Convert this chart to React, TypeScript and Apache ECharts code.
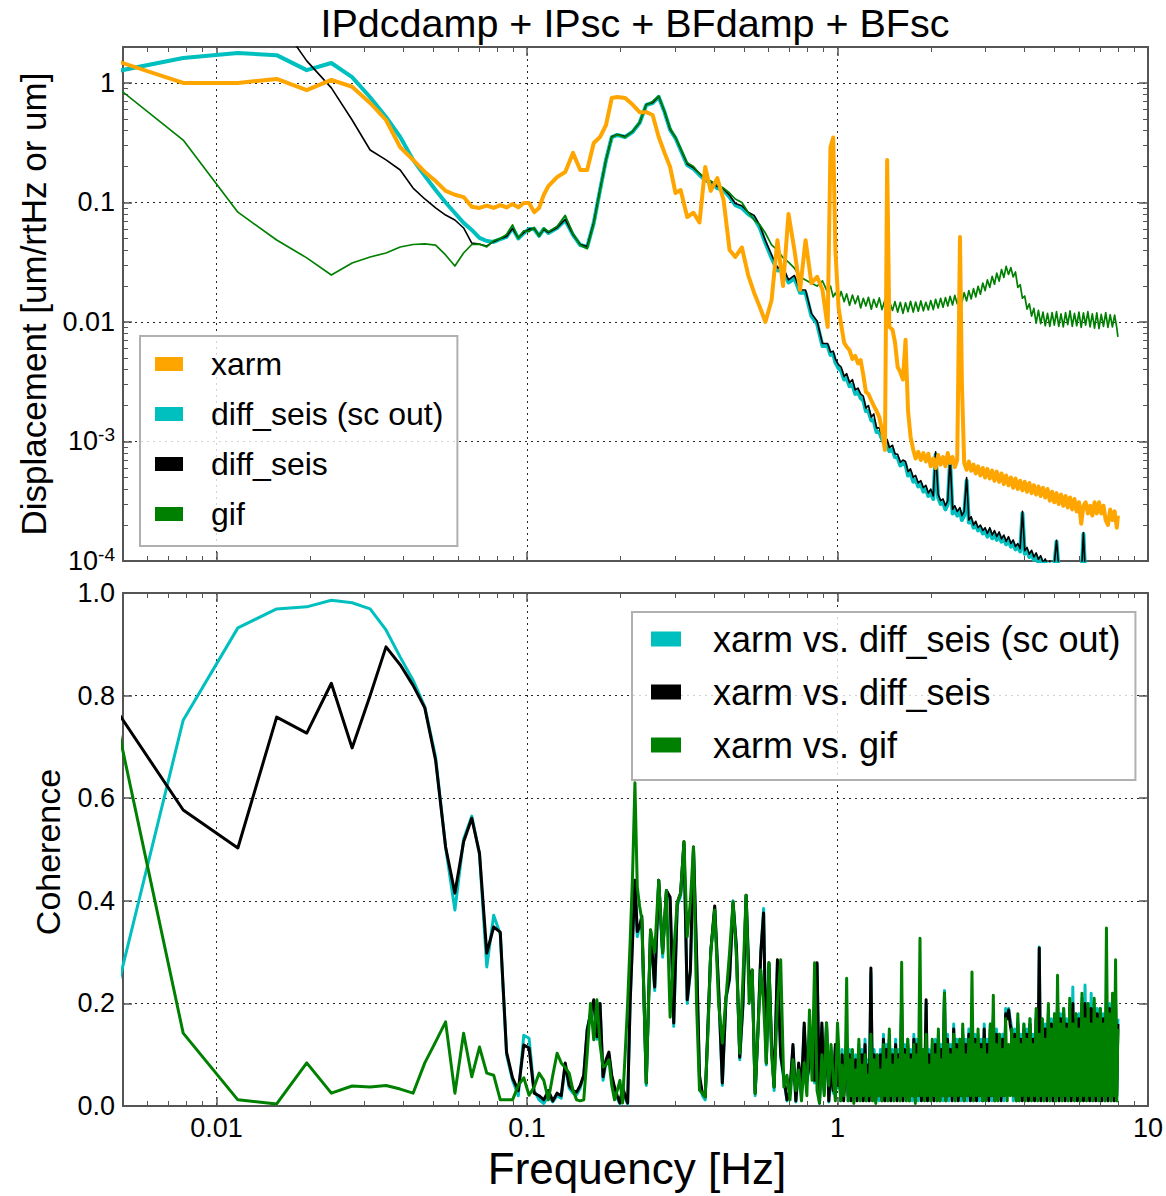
import React, { useEffect, useRef } from 'react';
import * as echarts from 'echarts';

// ---------- data ----------
const HZ_PER_BIN = 1 / 256;

const TITLE = 'IPdcdamp + IPsc + BFdamp + BFsc';
const Y_NAME_TOP = 'Displacement [um/rtHz or um]';
const Y_NAME_BOTTOM = 'Coherence';
const X_NAME = 'Frequency [Hz]';

const TOP_NAMES = ['xarm', 'diff_seis (sc out)', 'diff_seis', 'gif'];
const BOTTOM_NAMES = ['xarm vs. diff_seis (sc out)', 'xarm vs. diff_seis', 'xarm vs. gif'];

const X_MAJOR = [0.01, 0.1, 1, 10];
const X_MINOR = [0.006, 0.007, 0.008, 0.009, 0.02, 0.03, 0.04, 0.05, 0.06, 0.07, 0.08, 0.09,
  0.2, 0.3, 0.4, 0.5, 0.6, 0.7, 0.8, 0.9, 2, 3, 4, 5, 6, 7, 8, 9];
const Y_TOP_MAJOR = [0.0001, 0.001, 0.01, 0.1, 1];
const Y_TOP_MINOR = [0.0002, 0.0003, 0.0004, 0.0005, 0.0006, 0.0007, 0.0008, 0.0009,
  0.002, 0.003, 0.004, 0.005, 0.006, 0.007, 0.008, 0.009,
  0.02, 0.03, 0.04, 0.05, 0.06, 0.07, 0.08, 0.09,
  0.2, 0.3, 0.4, 0.5, 0.6, 0.7, 0.8, 0.9];
const Y_BOTTOM_TICKS = [0, 0.2, 0.4, 0.6, 0.8, 1.0];

// frequency bins (units of 1/256 Hz) of the spectra, top panel
const TOP_BINS = [
  1, 2, 3, 4, 5, 6, 7, 8, 9, 10,
  11, 12, 13, 14, 15, 16, 17, 18, 19, 20,
  21, 22, 23, 24, 25, 26, 27, 28, 29, 30,
  32, 34, 36, 38, 40, 42, 44, 46, 48, 50,
  53, 56, 59, 62, 65, 68, 71, 74, 77, 80,
  84, 88, 92, 96, 100,
  105, 110, 115, 120, 126, 132, 138, 144, 150,
  157, 164, 171, 178, 186, 194, 202, 211, 220, 229, 238,
  243, 248,
  252, 258, 263, 269, 274, 280, 286, 292, 298, 304,
  310, 316, 322, 329, 335, 342, 349, 356, 364, 370,
  376, 385, 392, 400, 408, 416, 424, 432, 440, 449,
  457, 466, 475, 484, 493, 502, 511, 521, 530, 540,
  550, 560, 570, 580, 590, 601, 611, 622, 635, 644,
  655, 667, 678, 690, 702, 714, 726, 739, 752, 765,
  778, 792, 806, 820, 834, 849, 864, 879, 894, 910,
  926, 942, 958, 975, 992, 1009, 1026, 1044, 1062, 1080,
  1098, 1117, 1136, 1155, 1175, 1195, 1215, 1236, 1257, 1278,
  1299, 1321, 1343, 1366, 1389, 1412, 1436, 1460, 1484, 1509,
  1534, 1560, 1586, 1612, 1639, 1666, 1694, 1722, 1751, 1780,
  1810, 1840, 1871, 1902, 1934, 1966, 1999, 2032, 2048,
];

const XARM = [
  1.81, 1.0, 1.0, 1.08, 0.87, 1.06, 0.93, 0.68, 0.49, 0.29,
  0.227, 0.18, 0.151, 0.125, 0.116, 0.111, 0.092, 0.09, 0.094, 0.09,
  0.095, 0.091, 0.097, 0.091, 0.099, 0.099, 0.083, 0.09, 0.116, 0.137,
  0.163, 0.18, 0.26, 0.187, 0.187, 0.315, 0.353, 0.445, 0.749, 0.764,
  0.75, 0.66, 0.57, 0.57, 0.54, 0.353, 0.26, 0.198, 0.12, 0.127,
  0.0756, 0.082, 0.068, 0.198, 0.125,
  0.16, 0.105, 0.04, 0.035, 0.042, 0.0247, 0.0175, 0.0133, 0.01,
  0.0152, 0.0484, 0.02, 0.0802, 0.04, 0.0186, 0.0484, 0.0211, 0.0239, 0.0186, 0.0091,
  0.29, 0.35,
  0.04, 0.0133, 0.0095, 0.0067, 0.0062, 0.0058, 0.0049, 0.0052, 0.0045, 0.0048,
  0.0036, 0.0026, 0.0025, 0.0022, 0.002, 0.0018, 0.0016, 0.00125, 0.00085, 0.227,
  0.0091, 0.0086, 0.0068, 0.0042, 0.0038, 0.0033, 0.0071, 0.0018, 0.0011, 0.00085,
  0.00072, 0.00082, 0.0007, 0.0008, 0.00068, 0.00079, 0.00062, 0.00072, 0.0006, 0.00077,
  0.00064, 0.00074, 0.00062, 0.0008, 0.00066, 0.00074, 0.00061, 0.0007, 0.0514, 0.00309,
  0.00066, 0.00058, 0.00068, 0.00057, 0.00064, 0.00054, 0.00062, 0.00052, 0.0006, 0.0005,
  0.00059, 0.00049, 0.00057, 0.00047, 0.00056, 0.00046, 0.00054, 0.00044, 0.00052, 0.00043,
  0.0005, 0.00041, 0.00049, 0.0004, 0.00047, 0.00039, 0.00046, 0.00038, 0.00045, 0.00037,
  0.00043, 0.00036, 0.00042, 0.00035, 0.00041, 0.00034, 0.0004, 0.00032, 0.00038, 0.00031,
  0.00037, 0.0003, 0.00036, 0.00029, 0.00035, 0.00028, 0.00034, 0.00027, 0.00033, 0.00026,
  0.00031, 0.000205, 0.00029, 0.00031, 0.00025, 0.00029, 0.00024, 0.00031, 0.00025, 0.00031,
  0.00025, 0.00029, 0.00022, 0.0002, 0.00027, 0.00022, 0.00026, 0.00019, 0.00024,
];

const DIFF_SEIS_SC_OUT = [
  1.13, 1.62, 1.78, 1.71, 1.28, 1.47, 1.12, 0.76, 0.52, 0.353,
  0.227, 0.167, 0.127, 0.1, 0.0817, 0.0675, 0.0589, 0.0505, 0.0476, 0.0468,
  0.0494, 0.0515, 0.0612, 0.05, 0.0555, 0.06, 0.06, 0.0525, 0.06, 0.0555,
  0.0612, 0.0713, 0.0535, 0.0441, 0.0424, 0.0675, 0.127, 0.227, 0.353, 0.367,
  0.353, 0.389, 0.462, 0.654, 0.68, 0.764, 0.571, 0.405, 0.346, 0.275,
  0.206, 0.191, 0.17, 0.154, 0.146,
  0.132, 0.127, 0.111, 0.095, 0.09, 0.08, 0.074, 0.0612, 0.0458,
  0.0344, 0.027, 0.0272, 0.0214, 0.0232, 0.0176, 0.0176, 0.0112, 0.0097, 0.0063, 0.0063,
  0.0053, 0.0054,
  0.0046, 0.0041, 0.0039, 0.0033, 0.0034, 0.0029, 0.003, 0.0025, 0.0026, 0.0023,
  0.0022, 0.0018, 0.0018, 0.0015, 0.0015, 0.0012, 0.0012, 0.00105, 0.00093, 0.00097,
  0.00083, 0.00086, 0.00074, 0.00073, 0.00063, 0.00066, 0.00064, 0.00052, 0.00055, 0.00046,
  0.00048, 0.00042, 0.00044, 0.00038, 0.0004, 0.00035, 0.00037, 0.00033, 0.00078, 0.00034,
  0.0003, 0.00031, 0.00027, 0.0003, 0.0007, 0.00025, 0.00027, 0.00024, 0.00026, 0.00022,
  0.00024, 0.00047, 0.00021, 0.00022, 0.00019, 0.0002, 0.00018, 0.00019, 0.00017, 0.00018,
  0.00016, 0.00018, 0.000155, 0.00017, 0.00015, 0.000165, 0.000145, 0.000155, 0.000138, 0.00015,
  0.000132, 0.000142, 0.000125, 0.000133, 0.00012, 0.00025, 0.000115, 0.000122, 0.000108, 0.000116,
  0.000102, 0.00011, 0.000097, 0.000105, 0.000092, 0.000098, 0.000088, 0.000094, 0.000084, 0.00009,
  0.000145, 0.000082, 0.000086, 0.000078, 0.000082, 0.000075, 0.000079, 0.000072, 0.000075, 0.000069,
  0.000072, 0.000066, 0.000168, 0.000064, 0.000066, 0.000061, 0.000063, 0.000059, 0.00006, 0.000057,
  0.000058, 0.000055, 0.000056, 0.000053, 0.000054, 0.000052, 0.000052, 0.00005, 0.00005,
];

const DIFF_SEIS = [
  15, 9, 5.5, 3.5, 1.53, 0.91, 0.49, 0.275, 0.227, 0.187,
  0.132, 0.107, 0.09, 0.0785, 0.0714, 0.0612, 0.0458, 0.0448, 0.0433, 0.047,
  0.0497, 0.052, 0.0605, 0.0505, 0.056, 0.0598, 0.0605, 0.053, 0.0595, 0.056,
  0.0615, 0.072, 0.054, 0.0445, 0.0428, 0.068, 0.128, 0.228, 0.355, 0.37,
  0.356, 0.392, 0.465, 0.66, 0.685, 0.77, 0.575, 0.41, 0.35, 0.28,
  0.21, 0.195, 0.175, 0.158, 0.15,
  0.136, 0.13, 0.115, 0.098, 0.094, 0.083, 0.078, 0.064, 0.048,
  0.0365, 0.0285, 0.0285, 0.0225, 0.0245, 0.0185, 0.0185, 0.0118, 0.0102, 0.0066, 0.0066,
  0.0056, 0.0057,
  0.0049, 0.0044, 0.0042, 0.0035, 0.0037, 0.0031, 0.0033, 0.0027, 0.0028, 0.0025,
  0.0024, 0.0019, 0.002, 0.0016, 0.0017, 0.0013, 0.0013, 0.00112, 0.001, 0.00104,
  0.00089, 0.00093, 0.00079, 0.00078, 0.00067, 0.0007, 0.00068, 0.00056, 0.00059, 0.0005,
  0.00052, 0.00045, 0.00047, 0.00041, 0.00043, 0.00037, 0.0004, 0.00035, 0.00082, 0.00036,
  0.00032, 0.00033, 0.00029, 0.00032, 0.00074, 0.00027, 0.00029, 0.00026, 0.00028, 0.00024,
  0.00026, 0.0005, 0.00022, 0.000235, 0.0002, 0.000215, 0.00019, 0.0002, 0.00018, 0.00019,
  0.00017, 0.00019, 0.000165, 0.00018, 0.00016, 0.000175, 0.000153, 0.000165, 0.000146, 0.00016,
  0.00014, 0.00015, 0.000132, 0.00014, 0.000127, 0.00026, 0.000122, 0.00013, 0.000114, 0.000123,
  0.000108, 0.000117, 0.000103, 0.000111, 0.000097, 0.000104, 0.000093, 0.0001, 0.000089, 0.000095,
  0.000149, 0.000087, 0.000091, 0.000082, 0.000087, 0.000079, 0.000083, 0.000076, 0.000079, 0.000073,
  0.000076, 0.00007, 0.000173, 0.000068, 0.00007, 0.000065, 0.000067, 0.000062, 0.000064, 0.00006,
  0.000061, 0.000058, 0.000059, 0.000056, 0.000057, 0.000055, 0.000055, 0.000053, 0.000053,
];

const GIF = [
  1.4, 0.333, 0.083, 0.0485, 0.0344, 0.0247, 0.0312, 0.035, 0.0378, 0.0424,
  0.0445, 0.045, 0.044, 0.0364, 0.0294, 0.0378, 0.0445, 0.0448, 0.0425, 0.048,
  0.05, 0.054, 0.065, 0.05, 0.058, 0.057, 0.062, 0.052, 0.061, 0.057,
  0.063, 0.078, 0.055, 0.044, 0.041, 0.066, 0.125, 0.225, 0.35, 0.37,
  0.35, 0.395, 0.47, 0.65, 0.7, 0.78, 0.58, 0.42, 0.35, 0.285,
  0.215, 0.2, 0.175, 0.16, 0.151,
  0.14, 0.132, 0.12, 0.107, 0.1, 0.083, 0.0713, 0.065, 0.0555,
  0.0441, 0.04, 0.0344, 0.0317, 0.0282, 0.0239, 0.0225, 0.0211, 0.02, 0.0221, 0.0177,
  0.02, 0.0162,
  0.0175, 0.0153, 0.018, 0.0148, 0.0172, 0.0138, 0.0168, 0.0142, 0.0165, 0.0131,
  0.0158, 0.0136, 0.0161, 0.0128, 0.0155, 0.0133, 0.0159, 0.0127, 0.0153, 0.0122,
  0.015, 0.0125, 0.0148, 0.0121, 0.0146, 0.0118, 0.0145, 0.0122, 0.0149, 0.0121,
  0.0147, 0.0123, 0.015, 0.0124, 0.0146, 0.0126, 0.0151, 0.0127, 0.0155, 0.0131,
  0.0158, 0.0133, 0.016, 0.0136, 0.0164, 0.0139, 0.0167, 0.0142, 0.0171, 0.0146,
  0.0176, 0.015, 0.0183, 0.0156, 0.019, 0.0162, 0.0199, 0.0171, 0.0212, 0.0183,
  0.0225, 0.0195, 0.0241, 0.0207, 0.0256, 0.022, 0.0275, 0.0236, 0.0292, 0.025,
  0.0285, 0.0238, 0.0262, 0.0195, 0.0205, 0.0158, 0.0165, 0.0128, 0.0142, 0.0112,
  0.013, 0.0098, 0.0125, 0.0097, 0.0121, 0.0093, 0.0118, 0.0092, 0.012, 0.0094,
  0.0122, 0.0092, 0.0117, 0.0091, 0.012, 0.0095, 0.0124, 0.0092, 0.0118, 0.0093,
  0.0121, 0.009, 0.0119, 0.0094, 0.0122, 0.0091, 0.0117, 0.0089, 0.0119, 0.0088,
  0.0116, 0.0092, 0.012, 0.009, 0.0115, 0.0091, 0.0114, 0.0089, 0.0075,
];

// frequency bins (units of 1/256 Hz) of the coherences, bottom panel
const BOT_BINS = [
  1, 2, 3, 4, 5, 6, 7, 8, 9, 10,
  11, 12, 13, 14, 15, 16, 17, 18, 19, 20,
  21, 22, 23, 24, 25, 26, 27, 28, 29, 30,
  31, 32, 33, 34, 35, 36, 37, 38, 39, 40,
  41, 42, 43, 44, 45, 46, 47, 48, 49, 50,
  51, 52, 53, 54, 55, 56, 57, 58, 59, 60,
  62, 64, 66, 68, 70, 72, 74, 76, 78, 80,
  82, 84, 86, 88, 90, 92, 94, 96, 98, 100,
  103, 106, 109, 112, 115, 118, 121, 124, 127, 130,
  133, 136, 139, 142, 145, 148, 151, 154, 157, 160,
  164, 168, 172, 176, 180, 184, 188, 192, 196, 200,
  204, 208, 212, 216, 220, 224, 228, 232, 236, 240,
  244, 248, 252, 256,
  259, 262, 265, 268, 271, 274, 277, 280, 283, 286,
  289, 293, 296, 300, 303, 307, 310, 314, 317, 321,
  324, 328, 332, 336, 340, 344, 348, 352, 356, 360,
  364, 368, 372, 376, 380, 385, 389, 394, 398, 403,
  407, 412, 416, 421, 426, 431, 436, 441, 446, 451,
  456, 461, 466, 472, 477, 483, 488, 494, 499, 505,
  511, 517, 523, 529, 535, 541, 547, 553, 559, 566,
  572, 579, 585, 592, 599, 606, 613, 620, 627, 634,
  641, 648, 655, 663, 670, 678, 686, 694, 702, 710,
  718, 726, 734, 743, 751, 760, 768, 777, 786, 795,
  804, 813, 822, 832, 841, 851, 861, 871, 881, 891,
  901, 911, 921, 932, 942, 953, 964, 975, 986, 997,
  1008, 1020, 1031, 1043, 1055, 1067, 1079, 1092, 1104, 1117,
  1130, 1143, 1156, 1169, 1182, 1196, 1209, 1223, 1237, 1251,
  1265, 1280, 1294, 1309, 1324, 1339, 1354, 1370, 1385, 1401,
  1417, 1433, 1449, 1466, 1483, 1500, 1517, 1534, 1551, 1569,
  1587, 1605, 1623, 1642, 1661, 1680, 1699, 1718, 1738, 1758,
  1778, 1798, 1818, 1839, 1860, 1881, 1902, 1924, 1946, 1968,
  1990, 2013, 2030, 2048,
];

const COH_SC_OUT = [
  0.01, 0.752, 0.932, 0.969, 0.973, 0.986, 0.981, 0.969, 0.928, 0.875,
  0.83, 0.778, 0.68, 0.505, 0.382, 0.52, 0.565, 0.49, 0.271, 0.372,
  0.335, 0.1, 0.05, 0.02, 0.138, 0.132, 0.03, 0.012, 0.005, 0.02,
  0.008, 0.02, 0.015, 0.08, 0.035, 0.025, 0.022, 0.035, 0.06, 0.15,
  0.18, 0.205, 0.13, 0.2, 0.05, 0.085, 0.1, 0.055, 0.03, 0.015,
  0.004, 0.035, 0.015, 0.004, 0.2, 0.33, 0.44, 0.33, 0.35, 0.36,
  0.04, 0.34, 0.225, 0.44, 0.29, 0.42, 0.4, 0.155, 0.39, 0.41,
  0.51, 0.2, 0.26, 0.5, 0.29, 0.05, 0.02, 0.012, 0.155, 0.3,
  0.385, 0.225, 0.04, 0.21, 0.245, 0.4, 0.305, 0.09, 0.195, 0.41,
  0.235, 0.26, 0.02, 0.145, 0.3, 0.385, 0.08, 0.275, 0.115, 0.03,
  0.28, 0.095, 0.05, 0.01, 0.025, 0.115, 0.008, 0.08, 0.025, 0.155,
  0.045, 0.08, 0.145, 0.045, 0.275, 0.005, 0.155, 0.025, 0.155, 0.008,
  0.075, 0.025, 0.115, 0.035,
  0.09, 0.01, 0.11, 0.02, 0.08, 0.13, 0.01, 0.11, 0.02, 0.1,
  0.01, 0.1, 0.02, 0.12, 0.01, 0.11, 0.02, 0.13, 0.01, 0.09,
  0.02, 0.26, 0.01, 0.11, 0.02, 0.1, 0.01, 0.11, 0.02, 0.14,
  0.02, 0.12, 0.01, 0.14, 0.02, 0.11, 0.01, 0.13, 0.02, 0.11,
  0.01, 0.2, 0.02, 0.12, 0.01, 0.13, 0.02, 0.11, 0.01, 0.14,
  0.02, 0.13, 0.01, 0.16, 0.02, 0.11, 0.01, 0.2, 0.02, 0.11,
  0.01, 0.12, 0.02, 0.13, 0.01, 0.14, 0.02, 0.12, 0.01, 0.225,
  0.02, 0.14, 0.01, 0.12, 0.02, 0.16, 0.01, 0.13, 0.02, 0.13,
  0.01, 0.15, 0.02, 0.13, 0.01, 0.15, 0.02, 0.17, 0.01, 0.14,
  0.02, 0.14, 0.01, 0.13, 0.02, 0.16, 0.01, 0.13, 0.02, 0.16,
  0.01, 0.18, 0.02, 0.15, 0.01, 0.14, 0.02, 0.14, 0.01, 0.19,
  0.18, 0.19, 0.17, 0.15, 0.01, 0.15, 0.02, 0.17, 0.01, 0.14,
  0.02, 0.16, 0.01, 0.15, 0.02, 0.17, 0.01, 0.14, 0.02, 0.18,
  0.01, 0.31, 0.02, 0.17, 0.01, 0.16, 0.02, 0.19, 0.01, 0.17,
  0.02, 0.18, 0.01, 0.21, 0.02, 0.18, 0.01, 0.19, 0.02, 0.17,
  0.01, 0.2, 0.02, 0.232, 0.01, 0.18, 0.02, 0.18, 0.01, 0.21,
  0.02, 0.236, 0.01, 0.2, 0.02, 0.22, 0.01, 0.2, 0.02, 0.19,
  0.01, 0.19, 0.02, 0.18, 0.01, 0.21, 0.02, 0.2, 0.01, 0.21,
  0.02, 0.21, 0.01, 0.17,
];

const COH_DIFF_SEIS = [
  0.849, 0.577, 0.503, 0.758, 0.727, 0.824, 0.698, 0.8, 0.895, 0.86,
  0.82, 0.776, 0.674, 0.505, 0.415, 0.515, 0.561, 0.493, 0.298, 0.349,
  0.339, 0.105, 0.055, 0.03, 0.119, 0.113, 0.025, 0.02, 0.012, 0.03,
  0.01, 0.025, 0.02, 0.084, 0.04, 0.03, 0.027, 0.04, 0.06, 0.148,
  0.18, 0.207, 0.135, 0.2, 0.057, 0.09, 0.105, 0.06, 0.037, 0.02,
  0.006, 0.037, 0.02, 0.006, 0.2, 0.32, 0.44, 0.34, 0.35, 0.37,
  0.045, 0.343, 0.232, 0.44, 0.3, 0.42, 0.407, 0.162, 0.396, 0.415,
  0.515, 0.207, 0.265, 0.505, 0.3, 0.06, 0.025, 0.018, 0.162, 0.3,
  0.39, 0.232, 0.045, 0.212, 0.25, 0.396, 0.31, 0.095, 0.2, 0.411,
  0.24, 0.265, 0.025, 0.15, 0.3, 0.376, 0.084, 0.279, 0.12, 0.037,
  0.285, 0.1, 0.057, 0.012, 0.03, 0.12, 0.01, 0.084, 0.03, 0.162,
  0.05, 0.084, 0.15, 0.05, 0.279, 0.006, 0.162, 0.03, 0.162, 0.01,
  0.08, 0.03, 0.12, 0.04,
  0.08, 0.02, 0.1, 0.01, 0.07, 0.12, 0.02, 0.1, 0.01, 0.09,
  0.02, 0.09, 0.01, 0.11, 0.02, 0.1, 0.01, 0.12, 0.02, 0.08,
  0.01, 0.269, 0.02, 0.1, 0.01, 0.09, 0.02, 0.1, 0.01, 0.13,
  0.01, 0.11, 0.02, 0.13, 0.01, 0.1, 0.02, 0.12, 0.01, 0.1,
  0.02, 0.2, 0.01, 0.11, 0.02, 0.12, 0.01, 0.1, 0.02, 0.13,
  0.01, 0.12, 0.02, 0.15, 0.01, 0.1, 0.02, 0.207, 0.01, 0.1,
  0.02, 0.11, 0.01, 0.12, 0.02, 0.13, 0.01, 0.11, 0.02, 0.22,
  0.01, 0.13, 0.02, 0.11, 0.01, 0.15, 0.02, 0.12, 0.01, 0.12,
  0.02, 0.14, 0.01, 0.12, 0.02, 0.14, 0.01, 0.16, 0.02, 0.13,
  0.01, 0.13, 0.02, 0.12, 0.01, 0.15, 0.02, 0.12, 0.01, 0.15,
  0.02, 0.17, 0.01, 0.14, 0.02, 0.13, 0.01, 0.13, 0.02, 0.18,
  0.17, 0.187, 0.16, 0.14, 0.02, 0.14, 0.01, 0.16, 0.02, 0.13,
  0.01, 0.15, 0.02, 0.14, 0.01, 0.16, 0.02, 0.13, 0.01, 0.17,
  0.02, 0.308, 0.01, 0.16, 0.02, 0.15, 0.01, 0.18, 0.02, 0.16,
  0.01, 0.17, 0.02, 0.2, 0.01, 0.17, 0.02, 0.18, 0.01, 0.16,
  0.02, 0.19, 0.01, 0.2, 0.02, 0.17, 0.01, 0.17, 0.02, 0.2,
  0.01, 0.2, 0.02, 0.19, 0.01, 0.19, 0.02, 0.19, 0.01, 0.18,
  0.02, 0.18, 0.01, 0.17, 0.02, 0.2, 0.01, 0.19, 0.02, 0.2,
  0.01, 0.2, 0.02, 0.16,
];

const COH_GIF = [
  0.995, 0.142, 0.012, 0.004, 0.084, 0.025, 0.039, 0.037, 0.04, 0.033,
  0.025, 0.084, 0.125, 0.164, 0.025, 0.142, 0.057, 0.115, 0.064, 0.06,
  0.012, 0.012, 0.012, 0.04, 0.055, 0.021, 0.037, 0.064, 0.05, 0.012,
  0.06, 0.103, 0.084, 0.075, 0.064, 0.031, 0.012, 0.01, 0.012, 0.1,
  0.2, 0.129, 0.207, 0.12, 0.076, 0.08, 0.09, 0.04, 0.012, 0.03,
  0.05, 0.006, 0.1, 0.2, 0.318, 0.45, 0.63, 0.427, 0.39, 0.363,
  0.045, 0.343, 0.3, 0.44, 0.298, 0.42, 0.173, 0.3, 0.396, 0.415,
  0.515, 0.33, 0.4, 0.505, 0.2, 0.031, 0.025, 0.018, 0.148, 0.3,
  0.382, 0.2, 0.123, 0.212, 0.3, 0.398, 0.29, 0.103, 0.25, 0.411,
  0.2, 0.265, 0.025, 0.15, 0.265, 0.2, 0.084, 0.279, 0.1, 0.037,
  0.2, 0.285, 0.037, 0.06, 0.012, 0.09, 0.03, 0.07, 0.01, 0.084,
  0.02, 0.187, 0.05, 0.279, 0.03, 0.006, 0.1, 0.02, 0.162, 0.04,
  0.12, 0.057, 0.01, 0.162,
  0.1, 0.01, 0.08, 0.02, 0.06, 0.249, 0.01, 0.09, 0.02, 0.11,
  0.005, 0.07, 0.02, 0.13, 0.01, 0.08, 0.02, 0.1, 0.01, 0.06,
  0.02, 0.14, 0.01, 0.09, 0.005, 0.1, 0.02, 0.07, 0.01, 0.12,
  0.02, 0.09, 0.01, 0.15, 0.02, 0.08, 0.01, 0.11, 0.02, 0.09,
  0.01, 0.28, 0.02, 0.1, 0.01, 0.13, 0.01, 0.09, 0.02, 0.12,
  0.005, 0.1, 0.02, 0.327, 0.02, 0.11, 0.01, 0.14, 0.02, 0.08,
  0.01, 0.13, 0.02, 0.1, 0.01, 0.15, 0.01, 0.09, 0.02, 0.22,
  0.01, 0.12, 0.02, 0.1, 0.02, 0.14, 0.01, 0.11, 0.02, 0.13,
  0.02, 0.16, 0.01, 0.1, 0.02, 0.13, 0.02, 0.261, 0.01, 0.12,
  0.02, 0.15, 0.02, 0.11, 0.01, 0.13, 0.01, 0.1, 0.02, 0.16,
  0.02, 0.216, 0.01, 0.12, 0.01, 0.14, 0.02, 0.11, 0.02, 0.17,
  0.01, 0.12, 0.02, 0.15, 0.02, 0.13, 0.01, 0.18, 0.01, 0.12,
  0.02, 0.16, 0.01, 0.13, 0.02, 0.17, 0.01, 0.12, 0.02, 0.19,
  0.01, 0.14, 0.02, 0.17, 0.01, 0.13, 0.02, 0.2, 0.01, 0.15,
  0.02, 0.18, 0.01, 0.255, 0.02, 0.16, 0.01, 0.19, 0.02, 0.15,
  0.01, 0.21, 0.02, 0.16, 0.01, 0.18, 0.02, 0.15, 0.01, 0.22,
  0.02, 0.17, 0.01, 0.2, 0.02, 0.16, 0.01, 0.21, 0.02, 0.17,
  0.01, 0.19, 0.02, 0.16, 0.01, 0.347, 0.02, 0.18, 0.01, 0.22,
  0.02, 0.285, 0.01, 0.15,
];

// ---------- styling ----------
const FONT = "'Liberation Sans', Arial, Helvetica, sans-serif";
const C_ORANGE = '#FFA500';
const C_CYAN = '#00BFBF';
const C_BLACK = '#000000';
const C_GREEN = '#008000';
const AXIS_COLOR = '#555555';

const pairs = (bins: number[], vals: number[]) => bins.map((b, i) => [b * HZ_PER_BIN, vals[i]]);

const frameLine = { show: true, onZero: false, lineStyle: { color: AXIS_COLOR, width: 2 } };
const noLine = { show: false, onZero: false };
const gridLine = { show: true, lineStyle: { color: '#000', width: 1, type: [2, 4], opacity: 0.85 } };
const majorTick = (vals: number[]) => ({ show: true, inside: true, length: 9, customValues: vals, lineStyle: { color: AXIS_COLOR, width: 1.5 } });
const minorTick = (vals: number[]) => ({ show: true, inside: true, length: 5, customValues: vals, lineStyle: { color: AXIS_COLOR, width: 1 } });
const noLabel = { show: false };

const fmtX = (v: number) => {
  const e = Math.round(Math.log10(v));
  return ({ [-2]: '0.01', [-1]: '0.1', 0: '1', 1: '10' } as Record<number, string>)[e] ?? String(v);
};
const fmtYTop = (v: number) => {
  const e = Math.round(Math.log10(v));
  if (e <= -3) return '10{sup|' + e + '}';
  return ({ [-2]: '0.01', [-1]: '0.1', 0: '1' } as Record<number, string>)[e] ?? String(v);
};

function xAxesFor(gridIndex: number, withLabels: boolean) {
  const base = {
    type: 'log', logBase: 10, min: 0.005, max: 10, gridIndex, silent: true,
    splitLine: { show: false }, axisLabel: noLabel, axisLine: noLine, axisTick: { show: false },
  };
  return [
    {
      ...base, position: 'bottom', axisLine: frameLine, axisTick: majorTick(X_MAJOR), splitLine: gridLine,
      axisLabel: withLabels
        ? { show: true, customValues: X_MAJOR, formatter: fmtX, fontSize: 27, color: '#000', fontFamily: FONT, margin: 8 }
        : noLabel,
    },
    { ...base, position: 'bottom', axisTick: minorTick(X_MINOR) },
    { ...base, position: 'top', axisLine: frameLine, axisTick: majorTick(X_MAJOR) },
    { ...base, position: 'top', axisTick: minorTick(X_MINOR) },
  ];
}

const yTopBase = {
  type: 'log', logBase: 10, min: 0.0001, max: 2, gridIndex: 0, silent: true,
  splitLine: { show: false }, axisLabel: noLabel, axisLine: noLine, axisTick: { show: false },
};
const yBotBase = {
  type: 'value', min: 0, max: 1, gridIndex: 1, silent: true,
  splitLine: { show: false }, axisLabel: noLabel, axisLine: noLine, axisTick: { show: false },
};

const yAxes = [
  {
    ...yTopBase, position: 'left', axisLine: frameLine, axisTick: majorTick(Y_TOP_MAJOR), splitLine: gridLine,
    axisLabel: {
      show: true, customValues: Y_TOP_MAJOR, formatter: fmtYTop, fontSize: 27, color: '#000', fontFamily: FONT, margin: 8,
      rich: { sup: { fontSize: 19, fontFamily: FONT, color: '#000', verticalAlign: 'bottom', padding: [0, 0, 14, 0] } },
    },
  },
  { ...yTopBase, position: 'left', axisTick: minorTick(Y_TOP_MINOR) },
  { ...yTopBase, position: 'right', axisLine: frameLine, axisTick: majorTick(Y_TOP_MAJOR) },
  { ...yTopBase, position: 'right', axisTick: minorTick(Y_TOP_MINOR) },
  {
    ...yBotBase, position: 'left', axisLine: frameLine, axisTick: majorTick(Y_BOTTOM_TICKS), splitLine: gridLine,
    axisLabel: {
      show: true, customValues: Y_BOTTOM_TICKS, formatter: (v: number) => v.toFixed(1),
      fontSize: 27, color: '#000', fontFamily: FONT, margin: 8,
    },
  },
  { ...yBotBase, position: 'right', axisLine: frameLine, axisTick: majorTick(Y_BOTTOM_TICKS) },
];

function lineSeries(name: string, color: string, width: number, data: number[][], xi: number, yi: number) {
  return {
    name, type: 'line', data, xAxisIndex: xi, yAxisIndex: yi,
    showSymbol: false, symbol: 'none', clip: true, silent: true, animation: false,
    color, itemStyle: { color },
    lineStyle: { color, width, join: 'round', cap: 'butt' },
  };
}

const legendCommon = {
  orient: 'vertical', icon: 'rect', selectedMode: false,
  backgroundColor: 'rgba(255,255,255,0.8)', borderColor: '#b0b0b0', borderWidth: 2, borderRadius: 0,
  z: 10,
};

const option = {
  animation: false,
  textStyle: { fontFamily: FONT, color: '#000' },
  grid: [
    { left: 123, top: 47, width: 1025, height: 514, outerBoundsMode: 'none', containLabel: false },
    { left: 123, top: 593, width: 1025, height: 513, outerBoundsMode: 'none', containLabel: false },
  ],
  xAxis: [...xAxesFor(0, false), ...xAxesFor(1, true)],
  yAxis: yAxes,
  legend: [
    {
      ...legendCommon, data: TOP_NAMES, left: 140, top: 336, padding: [10, 14, 14, 15],
      itemWidth: 28, itemHeight: 14, itemGap: 14,
      textStyle: { fontSize: 32, lineHeight: 36, color: '#000', fontFamily: FONT, padding: [0, 0, 0, 23] },
    },
    {
      ...legendCommon, data: BOTTOM_NAMES, left: 632, top: 612, padding: [7, 15, 15, 19],
      itemWidth: 30, itemHeight: 15, itemGap: 13,
      textStyle: { fontSize: 36, lineHeight: 40, color: '#000', fontFamily: FONT, padding: [0, 0, 0, 27] },
    },
  ],
  graphic: [
    { type: 'text', x: 635, y: 23, silent: true, style: { text: TITLE, fontSize: 39.5, fontFamily: FONT, fill: '#000', align: 'center', verticalAlign: 'middle' } },
    { type: 'text', x: 33, y: 304, rotation: Math.PI / 2, silent: true, style: { text: Y_NAME_TOP, fontSize: 35, fontFamily: FONT, fill: '#000', align: 'center', verticalAlign: 'middle' } },
    { type: 'text', x: 48, y: 852, rotation: Math.PI / 2, silent: true, style: { text: Y_NAME_BOTTOM, fontSize: 34, fontFamily: FONT, fill: '#000', align: 'center', verticalAlign: 'middle' } },
    { type: 'text', x: 637, y: 1168, silent: true, style: { text: X_NAME, fontSize: 44, fontFamily: FONT, fill: '#000', align: 'center', verticalAlign: 'middle' } },
  ],
  series: [
    lineSeries(TOP_NAMES[1], C_CYAN, 4, pairs(TOP_BINS, DIFF_SEIS_SC_OUT), 0, 0),
    lineSeries(TOP_NAMES[2], C_BLACK, 1.6, pairs(TOP_BINS, DIFF_SEIS), 0, 0),
    lineSeries(TOP_NAMES[3], C_GREEN, 1.7, pairs(TOP_BINS, GIF), 0, 0),
    lineSeries(TOP_NAMES[0], C_ORANGE, 4, pairs(TOP_BINS, XARM), 0, 0),
    lineSeries(BOTTOM_NAMES[0], C_CYAN, 3, pairs(BOT_BINS, COH_SC_OUT), 4, 4),
    lineSeries(BOTTOM_NAMES[1], C_BLACK, 3, pairs(BOT_BINS, COH_DIFF_SEIS), 4, 4),
    lineSeries(BOTTOM_NAMES[2], C_GREEN, 3, pairs(BOT_BINS, COH_GIF), 4, 4),
  ],
};

export default function App() {
  const ref = useRef<HTMLDivElement>(null);
  useEffect(() => {
    document.body.style.margin = '0';
    const chart = echarts.init(ref.current as HTMLDivElement, null, { renderer: 'svg' });
    chart.setOption(option as any);
    return () => chart.dispose();
  }, []);
  return <div ref={ref} style={{ width: 1166, height: 1196 }} />;
}
